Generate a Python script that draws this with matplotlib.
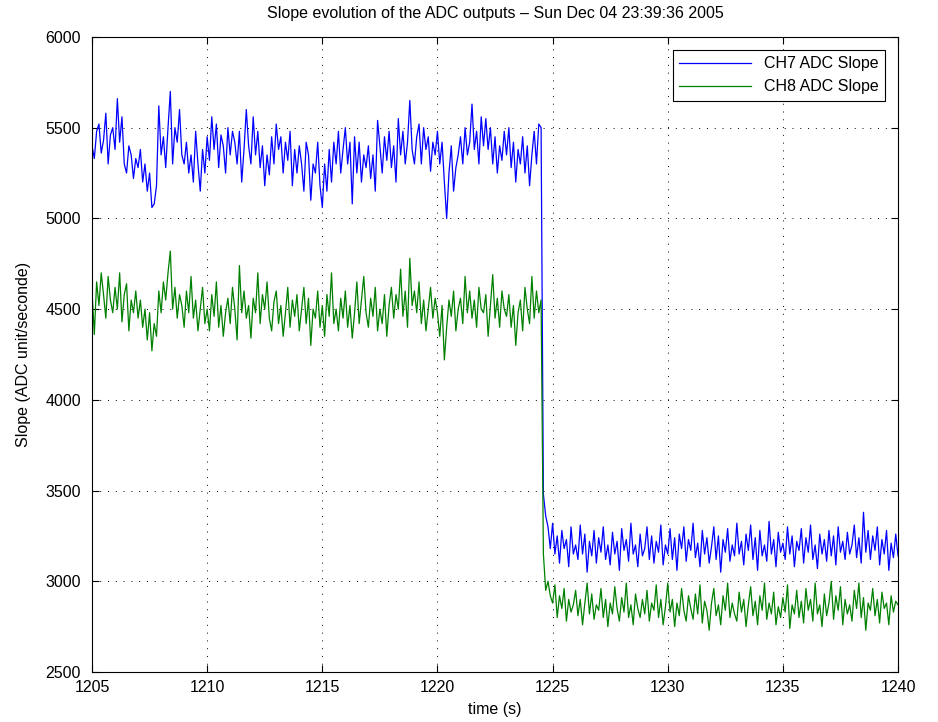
import numpy as np
import matplotlib
matplotlib.use("Agg")
import matplotlib.pyplot as plt

plt.rcParams["font.family"] = ["Liberation Sans", "DejaVu Sans"]

# Slope mesurée (unités ADC / seconde), un point tous les 0.1 s
ch7_avant = [
    5400, 5330, 5480, 5520, 5360, 5430, 5580, 5300, 5460, 5500,
    5380, 5660, 5420, 5560, 5300, 5250, 5400, 5350, 5220, 5330,
    5280, 5380, 5200, 5300, 5150, 5250, 5060, 5080, 5180, 5620,
    5350, 5450, 5280, 5500, 5700, 5300, 5500, 5420, 5600, 5350,
    5300, 5420, 5250, 5350, 5200, 5480, 5300, 5150, 5380, 5250,
    5450, 5320, 5560, 5380, 5520, 5280, 5460, 5400, 5250, 5500,
    5350, 5480, 5420, 5300, 5480, 5200, 5380, 5600, 5400, 5300,
    5560, 5350, 5480, 5280, 5400, 5180, 5350, 5240, 5450, 5300,
    5520, 5380, 5450, 5250, 5420, 5320, 5480, 5180, 5380, 5250,
    5400, 5300, 5150, 5420, 5350, 5100, 5300, 5250, 5420, 5180,
    5060, 5300, 5150, 5380, 5200, 5420, 5300, 5480, 5250, 5380,
    5500, 5300, 5420, 5080, 5450, 5250, 5420, 5200, 5350, 5280,
    5400, 5220, 5350, 5150, 5540, 5400, 5250, 5450, 5320, 5480,
    5280, 5400, 5200, 5550, 5350, 5480, 5300, 5420, 5650, 5380,
    5300, 5450, 5520, 5300, 5500, 5380, 5450, 5260, 5420, 5350,
    5480, 5300, 5420, 5200, 5000, 5250, 5400, 5150, 5280, 5350,
    5450, 5300, 5500, 5350, 5420, 5630, 5380, 5480, 5300, 5560,
    5400, 5550, 5380, 5500, 5300, 5450, 5250, 5400, 5320, 5480,
    5350, 5500, 5280, 5420, 5200, 5380, 5300, 5450, 5250, 5400,
    5180, 5350, 5480, 5300, 5520, 5500,
]
ch7_apres = [
    3480, 3360, 3300, 3180,
    3320, 3150, 3250, 3100, 3280, 3180, 3230, 3080, 3300, 3150,
    3200, 3120, 3310, 3150, 3260, 3050, 3220, 3140, 3280, 3100,
    3240, 3160, 3300, 3120, 3200, 3090, 3270, 3150, 3220, 3060,
    3290, 3170, 3230, 3110, 3320, 3150, 3200, 3080, 3260, 3140,
    3180, 3300, 3120, 3250, 3100, 3220, 3160, 3310, 3090, 3200,
    3150, 3290, 3120, 3240, 3060, 3260, 3180, 3300, 3110, 3230,
    3170, 3320, 3130, 3210, 3080, 3280, 3150, 3240, 3100, 3190,
    3300, 3120, 3250, 3050, 3230, 3160, 3290, 3110, 3200, 3140,
    3320, 3150, 3220, 3090, 3260, 3170, 3310, 3120, 3240, 3060,
    3280, 3140, 3200, 3110, 3330, 3150, 3230, 3080, 3270, 3160,
    3210, 3120, 3300, 3150, 3250, 3080, 3220, 3170, 3290, 3100,
    3240, 3160, 3310, 3120, 3200, 3070, 3260, 3150, 3230, 3110,
    3280, 3140, 3250, 3090, 3300, 3160, 3220, 3120, 3270, 3150,
    3200, 3310, 3130, 3240, 3100, 3380, 3160, 3280, 3120, 3250,
    3170, 3300, 3090, 3230, 3150, 3280, 3060, 3210, 3130, 3260,
    3140,
]
ch8_avant = [
    4600, 4360, 4650, 4520, 4700, 4580, 4450, 4680, 4550, 4480,
    4620, 4500, 4700, 4430, 4580, 4640, 4380, 4550, 4480, 4600,
    4450, 4550, 4400, 4500, 4330, 4480, 4270, 4420, 4350, 4600,
    4480, 4650, 4550, 4700, 4820, 4500, 4620, 4450, 4580, 4520,
    4400, 4600, 4480, 4680, 4450, 4550, 4380, 4500, 4620, 4420,
    4500, 4380, 4580, 4460, 4650, 4400, 4520, 4350, 4480, 4560,
    4420, 4620, 4500, 4330, 4740, 4480, 4600, 4450, 4520, 4340,
    4560, 4480, 4700, 4420, 4580, 4500, 4650, 4450, 4380, 4540,
    4600, 4420, 4520, 4350, 4480, 4620, 4400, 4550, 4460, 4580,
    4380, 4500, 4620, 4420, 4560, 4300, 4500, 4450, 4600, 4400,
    4520, 4350, 4580, 4460, 4700, 4420, 4500, 4380, 4560, 4450,
    4600, 4400, 4520, 4340, 4480, 4650, 4420, 4550, 4680, 4480,
    4400, 4560, 4460, 4620, 4380, 4500, 4420, 4580, 4350, 4520,
    4620, 4450, 4580, 4500, 4720, 4460, 4600, 4400, 4780, 4520,
    4600, 4480, 4650, 4420, 4550, 4380, 4500, 4620, 4450, 4560,
    4480, 4350, 4520, 4220, 4400, 4550, 4460, 4600, 4380, 4500,
    4560, 4420, 4680, 4480, 4600, 4450, 4550, 4400, 4620, 4500,
    4480, 4580, 4350, 4520, 4690, 4450, 4560, 4400, 4600, 4500,
    4460, 4580, 4400, 4520, 4300, 4480, 4550, 4380, 4620, 4500,
    4420, 4680, 4450, 4600, 4480, 4550,
]
ch8_apres = [
    3150, 2950, 3000, 2920,
    2880, 2980, 2800, 2920, 2850, 2960, 2780, 2900, 2830, 2870,
    2950, 2810, 2900, 2760, 2880, 2990, 2820, 2930, 2790, 2870,
    2840, 2960, 2800, 2900, 2750, 2880, 2820, 2970, 2850, 2780,
    2910, 2830, 2990, 2800, 2870, 2760, 2930, 2850, 2800, 2900,
    2820, 2950, 2780, 2880, 2840, 2980, 2800, 2900, 2760, 2860,
    2990, 2830, 2900, 2750, 2880, 2810, 2960, 2840, 2780, 2920,
    2850, 2790, 2930, 2820, 2980, 2770, 2890, 2840, 2730, 2880,
    2960, 2810, 2870, 2760, 2920, 2840, 2990, 2800, 2880, 2820,
    2780, 2940, 2830, 2900, 2750, 2870, 2970, 2810, 2890, 2760,
    2920, 2840, 2990, 2790, 2880, 2820, 2940, 2760, 2860, 2800,
    2910, 2830, 2980, 2740, 2870, 2820, 2950, 2800, 2890, 2770,
    2960, 2840, 2900, 2780, 2990, 2820, 2870, 2750, 2930, 2810,
    2880, 3000, 2790, 2920, 2840, 2970, 2760, 2900, 2820, 2870,
    2780, 2950, 2850, 2990, 2800, 2910, 2730, 2880, 2840, 2960,
    2810, 2900, 2770, 2940, 2850, 2880, 2760, 2920, 2830, 2890,
    2870,
]

ch7 = np.array(ch7_avant + ch7_apres)
ch8 = np.array(ch8_avant + ch8_apres)
temps = np.linspace(1205, 1240, len(ch7))

fig = plt.figure(figsize=(9.38, 7.22), dpi=100)
ax = fig.add_axes([0.0981, 0.0693, 0.8593, 0.8795])

ax.plot(temps, ch7, color=(0, 0, 1), lw=0.9, label="CH7 ADC Slope")
ax.plot(temps, ch8, color=(0, 0.5, 0), lw=0.9, label="CH8 ADC Slope")

ax.set_xlim(1205, 1240)
ax.set_ylim(2500, 6000)
ax.set_xticks(np.arange(1205, 1241, 5))
ax.set_yticks(np.arange(2500, 6001, 500))
ax.grid(True, color="black", linestyle=(0, (1, 7)), linewidth=0.7)
ax.tick_params(direction="in", top=True, right=True, labelsize=11.5, length=5)
ax.tick_params(axis="x", pad=6)
ax.tick_params(axis="y", pad=8)
for s in ax.spines.values():
    s.set_linewidth(0.8)

ax.set_xlabel("time (s)", fontsize=11.5, labelpad=5)
ax.set_ylabel("Slope (ADC unit/seconde)", fontsize=11.5, labelpad=10)
ax.set_title("Slope evolution of the ADC outputs \u2013 Sun Dec 04 23:39:36 2005", fontsize=11.5, pad=14)

leg = ax.legend(loc="upper right", fontsize=11.5, fancybox=False, framealpha=1,
                edgecolor="black", handlelength=4.5, borderaxespad=0.8)
leg.get_frame().set_linewidth(0.8)

fig.savefig("out.png", dpi=100)
